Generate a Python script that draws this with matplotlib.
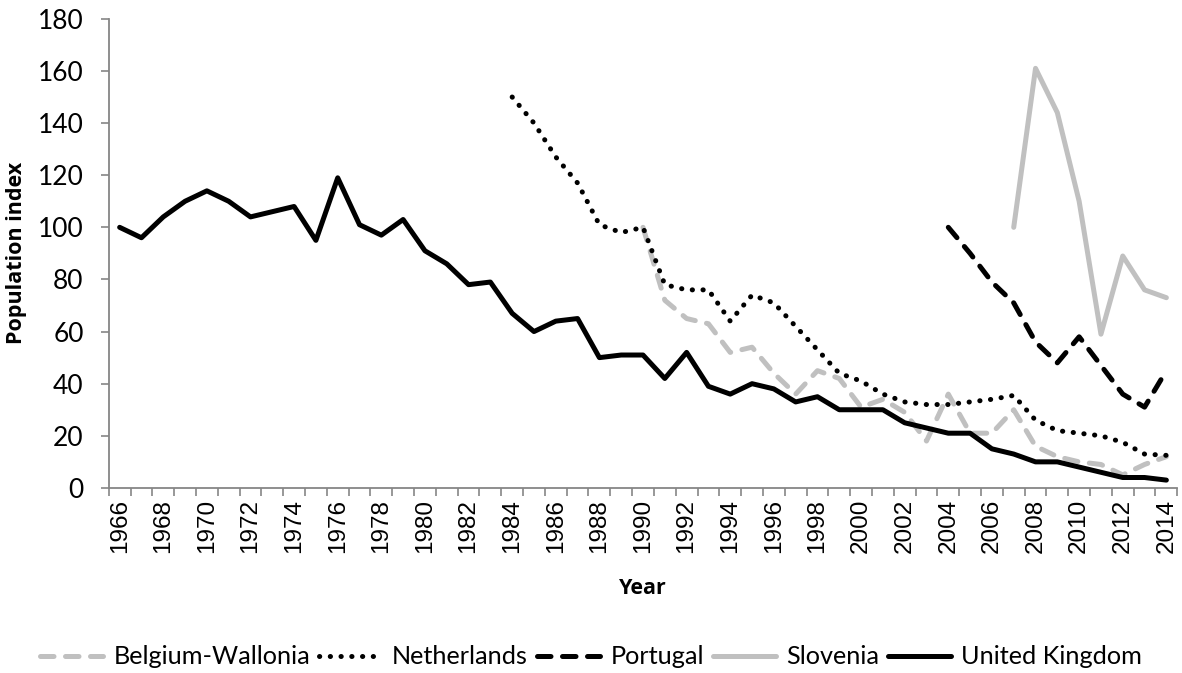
import numpy as np
import matplotlib
matplotlib.use("Agg")
import matplotlib.pyplot as plt

years = list(range(1966, 2015))

uk = [100, 96, 104, 110, 114, 110, 104, 106, 108, 95,
      119, 101, 97, 103, 91, 86, 78, 79, 67, 60,
      64, 65, 50, 51, 51, 42, 52, 39, 36, 40,
      38, 33, 35, 30, 30, 30, 25, 23, 21, 21,
      15, 13, 10, 10, 8, 6, 4, 4, 3]

nl_years = list(range(1984, 2015))
netherlands = [150, 140, 127, 117, 101, 98, 100, 78, 76, 76,
               64, 74, 71, 62, 53, 44, 41, 36, 33, 32,
               32, 33, 34, 35.5, 26, 22, 21, 20, 17.5, 13, 12.5]

be_years = list(range(1990, 2015))
belgium = [100, 72, 65, 63, 52, 54, 44, 36, 45, 42,
           31, 34, 29, 18, 36, 21, 21, 30, 16, 12,
           10, 9, 5, 9, 12]

pt_years = list(range(2004, 2015))
portugal = [100, 90, 79, 71, 56, 48, 58, 47, 36, 31, 45]

si_years = list(range(2007, 2015))
slovenia = [100, 161, 144, 110, 59, 89, 76, 73]

series_names = ["Belgium-Wallonia", "Netherlands", "Portugal", "Slovenia", "United Kingdom"]

fig = plt.figure(figsize=(11.82, 6.73), dpi=100)
ax = fig.add_axes([0.092, 0.275, 0.904, 0.697])

lw = 3.6
gray = "#c0c0c0"
dash = (0, (2.7, 2.3))
ax.plot(be_years, belgium, color=gray, lw=lw, ls=dash, dash_capstyle="round",
        label=series_names[0])
ax.plot(nl_years, netherlands, color="black", lw=lw, ls=(0, (0.05, 2.1)),
        dash_capstyle="round", label=series_names[1])
ax.plot(pt_years, portugal, color="black", lw=lw, ls=dash, dash_capstyle="round",
        label=series_names[2])
ax.plot(si_years, slovenia, color=gray, lw=lw, solid_capstyle="round", label=series_names[3])
ax.plot(years, uk, color="black", lw=lw, solid_capstyle="round", label=series_names[4])

ax.set_xlim(1965.5, 2014.5)
ax.set_ylim(0, 180)
ax.set_yticks(range(0, 181, 20))
ax.set_xticks(np.arange(1965.5, 2015, 1.0))
ax.set_xticklabels([])
ax.set_xticks(range(1966, 2015, 2), minor=True)
ax.set_xticklabels([str(y) for y in range(1966, 2015, 2)], minor=True, rotation=90,
                   fontsize=17.5, family="Liberation Sans")
ax.tick_params(axis="x", which="major", length=6, color="#868686", width=1.2)
ax.tick_params(axis="x", which="minor", length=0, pad=8)
ax.tick_params(axis="y", length=6, color="#868686", width=1.2, labelsize=19, pad=12)
for lab in ax.get_yticklabels():
    lab.set_family("Lato")

for s in ["top", "right"]:
    ax.spines[s].set_visible(False)
for s in ["left", "bottom"]:
    ax.spines[s].set_color("#868686")
    ax.spines[s].set_linewidth(1.3)

ax.set_ylabel("Population index", fontsize=15.5, fontweight="bold", family="Open Sans", labelpad=8)
ax.set_xlabel("Year", fontsize=15.5, fontweight="bold", family="Open Sans", labelpad=18)

leg = fig.legend(loc="center", bbox_to_anchor=(0.5, 0.024), ncol=5, frameon=False,
                 prop={"family": "Lato", "size": 18.2}, handlelength=2.5,
                 handletextpad=0.4, columnspacing=0.35)

fig.savefig("out.png", dpi=100)
